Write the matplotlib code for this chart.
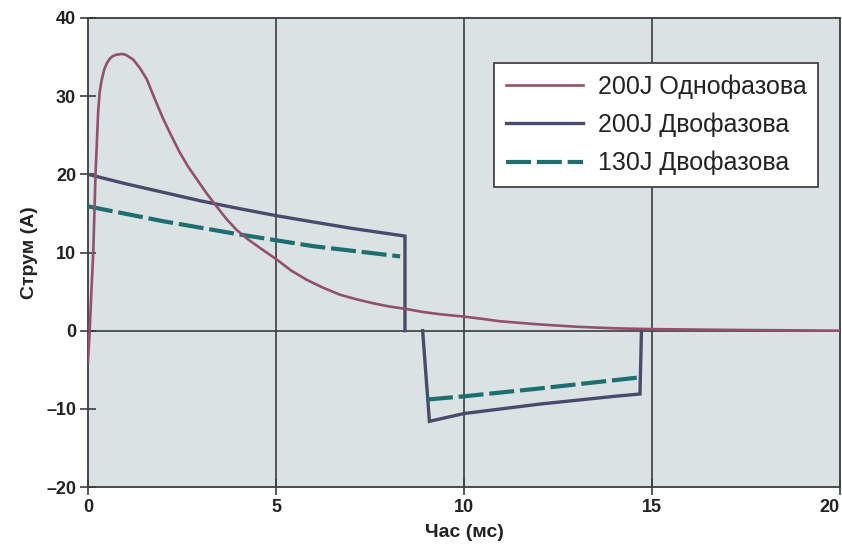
import matplotlib.pyplot as plt

# monophasic 200J waveform (time in ms, current in A)
mono_t = [0.0, 0.045, 0.09, 0.14, 0.17, 0.20, 0.235, 0.27, 0.31, 0.36, 0.43,
          0.50, 0.58, 0.65, 0.75, 0.90, 1.00, 1.10, 1.20, 1.38, 1.56, 1.78,
          2.00, 2.22, 2.44, 2.66, 2.89, 3.15, 3.42, 3.68, 3.95, 4.25, 4.57,
          5.02, 5.40, 5.82, 6.25, 6.70, 7.15, 7.59, 8.00, 8.43, 8.90, 9.36,
          10.0, 10.5, 10.96, 12.0, 13.0, 14.0, 15.0, 17.0, 20.0]
mono_i = [-4.0, 0.0, 5.0, 10.0, 15.0, 20.0, 24.0, 28.0, 30.5, 32.0, 33.4,
          34.2, 34.8, 35.1, 35.3, 35.4, 35.3, 35.0, 34.7, 33.6, 32.2, 29.6,
          27.1, 24.9, 22.8, 21.0, 19.4, 17.6, 15.9, 14.3, 12.9, 11.7, 10.6,
          9.1, 7.7, 6.5, 5.5, 4.6, 4.0, 3.5, 3.1, 2.8, 2.4, 2.1,
          1.8, 1.5, 1.2, 0.8, 0.5, 0.3, 0.2, 0.1, 0.0]

# biphasic 200J, positive and negative phase
bi200_pos_t = [0.0, 1.0, 2.0, 3.0, 4.04, 5.02, 6.0, 7.0, 8.43, 8.43]
bi200_pos_i = [20.0, 18.8, 17.7, 16.6, 15.6, 14.7, 13.9, 13.1, 12.1, 0.0]
bi200_neg_t = [8.90, 9.08, 10.0, 11.0, 12.0, 13.0, 14.0, 14.68, 14.72]
bi200_neg_i = [0.0, -11.6, -10.6, -10.0, -9.4, -8.9, -8.4, -8.1, 0.0]

# biphasic 130J (dashed)
bi130_pos_t = [0.0, 2.0, 4.04, 6.0, 8.3]
bi130_pos_i = [15.9, 14.0, 12.3, 10.8, 9.5]
bi130_neg_t = [9.04, 10.0, 12.0, 14.63]
bi130_neg_i = [-8.8, -8.4, -7.4, -6.0]

labels = ["200J Однофазова", "200J Двофазова", "130J Двофазова"]
x_ticks = [0, 5, 10, 15, 20]
y_ticks = [-20, -10, 0, 10, 20, 30, 40]

plt.rcParams["font.family"] = ["Liberation Sans", "DejaVu Sans"]

fig = plt.figure(figsize=(8.42, 5.47), dpi=100)
ax = fig.add_axes([88 / 842, 60 / 547, 752 / 842, 469 / 547])
ax.set_facecolor("#dae2e4")

grid_color = "#3c3c3c"
for xv in x_ticks[1:-1]:
    ax.axvline(xv, color=grid_color, linewidth=1.2, zorder=1)
ax.axhline(0, color=grid_color, linewidth=1.2, zorder=1)

mono_color = "#93506c"
bi_color = "#4a4a6c"
dash_color = "#1d6e70"
dash_style = (0, (6.0, 1.4))

(h_bi,) = ax.plot(bi200_pos_t, bi200_pos_i, color=bi_color, linewidth=2.4,
                  solid_joinstyle="miter", zorder=3)
ax.plot(bi200_neg_t, bi200_neg_i, color=bi_color, linewidth=2.4,
        solid_joinstyle="miter", zorder=3)
(h_dash,) = ax.plot(bi130_pos_t, bi130_pos_i, color=dash_color, linewidth=3.0,
                    linestyle=dash_style, zorder=3)
ax.plot(bi130_neg_t, bi130_neg_i, color=dash_color, linewidth=3.0,
        linestyle=dash_style, zorder=3)
(h_mono,) = ax.plot(mono_t, mono_i, color=mono_color, linewidth=1.9,
                    solid_joinstyle="round", zorder=4)

ax.set_xlim(0, 20)
ax.set_ylim(-20, 40)
ax.set_xticks(x_ticks)
ax.set_yticks(y_ticks)
ax.set_yticklabels([f"{v}".replace("-", "\u2013") for v in y_ticks])
ax.tick_params(axis="both", direction="inout", length=11, width=1.2,
               color=grid_color, labelsize=13, pad=3)
for lab in ax.get_xticklabels() + ax.get_yticklabels():
    lab.set_fontweight("bold")
    lab.set_color("#222222")
ax.get_xticklabels()[-1].set_horizontalalignment("right")

for spine in ax.spines.values():
    spine.set_color(grid_color)
    spine.set_linewidth(1.3)

ax.set_xlabel("Час (мс)", fontsize=14, fontweight="bold", color="#222222",
              labelpad=6)
ax.set_ylabel("Струм (А)", fontsize=14, fontweight="bold", color="#222222",
              labelpad=6)

leg = ax.legend([h_mono, h_bi, h_dash], labels, loc="upper right",
                bbox_to_anchor=(0.971, 0.904), fontsize=18, frameon=True,
                fancybox=False, framealpha=1, edgecolor="#444444",
                handlelength=3.1, handletextpad=0.6, labelspacing=0.55,
                borderpad=0.45, borderaxespad=0)
leg.get_frame().set_linewidth(1.3)
leg.set_zorder(6)
for txt in leg.get_texts():
    txt.set_color("#222222")

fig.savefig("out.png", dpi=100)
